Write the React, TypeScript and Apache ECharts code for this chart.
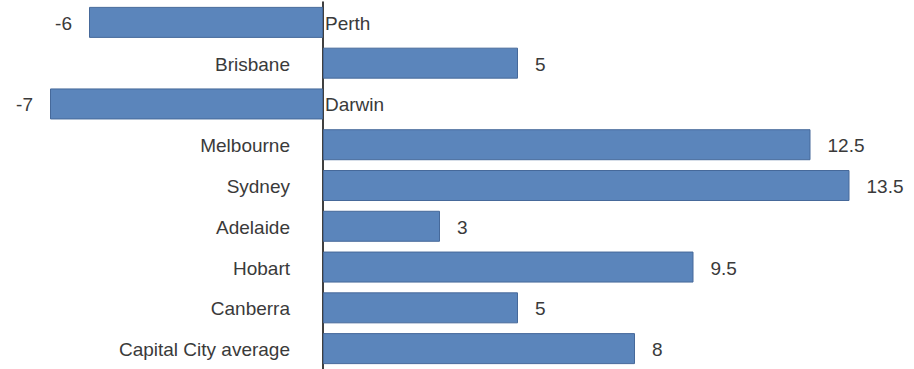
import React, { useEffect, useRef } from "react";
import * as echarts from "echarts";

const categories = [
  "Perth",
  "Brisbane",
  "Darwin",
  "Melbourne",
  "Sydney",
  "Adelaide",
  "Hobart",
  "Canberra",
  "Capital City average",
];
const values = [-6, 5, -7, 12.5, 13.5, 3, 9.5, 5, 8];

const FONT = "Liberation Sans, Arial, sans-serif";
const TEXT = "#3a3a3a";

export default function App() {
  const ref = useRef<HTMLDivElement>(null);
  useEffect(() => {
    if (!ref.current) return;
    document.body.style.margin = "0";
    const chart = echarts.init(ref.current, null, { renderer: "svg" });
    chart.setOption({
      animation: false,
      backgroundColor: "#ffffff",
      grid: { left: 11, right: 6, top: 2, height: 371, containLabel: false },
      xAxis: {
        type: "value",
        min: -8,
        max: 15,
        show: false,
      },
      yAxis: {
        type: "category",
        data: categories,
        inverse: true,
        axisLine: { show: true, onZero: true, lineStyle: { color: "#000", width: 1.5 } },
        axisTick: { show: false },
        axisLabel: { show: false },
        splitLine: { show: false },
      },
      series: [
        {
          type: "bar",
          data: values.map((v) =>
            v < 0 ? { value: v, label: { position: "left" } } : { value: v }
          ),
          barWidth: 31,
          itemStyle: { color: "#5b85bb", borderColor: "#46699a", borderWidth: 1 },
          label: {
            show: true,
            fontFamily: FONT,
            fontSize: 19,
            color: TEXT,
            distance: 17,
            position: "right",
            offset: [0, 1],
          },
          z: 2,
        },
        {
          type: "bar",
          data: values.map((v) => ({
            value: 0,
            label: v < 0
              ? { position: "right", distance: 2 }
              : { position: "left", distance: 33 },
          })),
          barWidth: 31,
          barGap: "-100%",
          itemStyle: { color: "transparent", borderWidth: 0 },
          silent: true,
          label: {
            show: true,
            fontFamily: FONT,
            fontSize: 19,
            color: TEXT,
            offset: [0, 1],
            formatter: (p: any) => categories[p.dataIndex],
          },
          z: 1,
        },
      ],
    });
    return () => chart.dispose();
  }, []);
  return (
    <div
      ref={ref}
      style={{ position: "absolute", left: 0, top: 0, width: 914, height: 369 }}
    />
  );
}
